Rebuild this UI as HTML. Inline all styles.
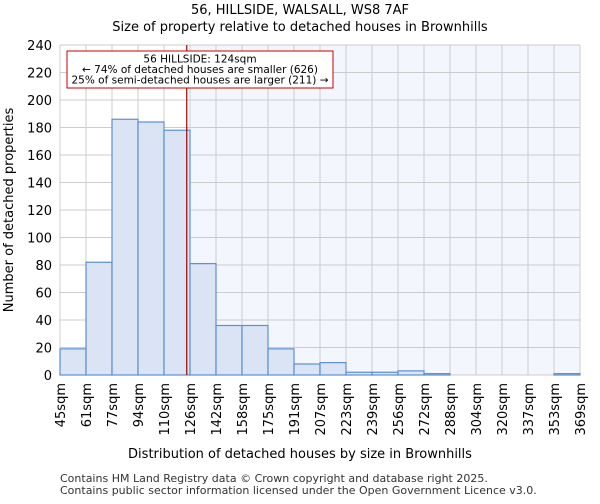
<!DOCTYPE html>
<html><head><meta charset="utf-8"><style>
body{margin:0;background:#fff;font-family:"DejaVu Sans","Liberation Sans",sans-serif;}
</style></head><body>
<svg id="c" width="600" height="500" xmlns="http://www.w3.org/2000/svg" font-family="DejaVu Sans, Liberation Sans, sans-serif">
<text x="300" y="14" text-anchor="middle" font-size="13">56, HILLSIDE, WALSALL, WS8 7AF</text>
<text x="300" y="31" text-anchor="middle" font-size="13">Size of property relative to detached houses in Brownhills</text>
<g id="plot"></g>
<text x="300" y="458" text-anchor="middle" font-size="13">Distribution of detached houses by size in Brownhills</text>
<text transform="translate(13,210) rotate(-90)" text-anchor="middle" font-size="13">Number of detached properties</text>
<text x="60" y="482" font-size="11" fill="#333">Contains HM Land Registry data © Crown copyright and database right 2025.</text>
<text x="60" y="494" font-size="11" fill="#333">Contains public sector information licensed under the Open Government Licence v3.0.</text>
</svg>
<script>
const binLabels=["45sqm","61sqm","77sqm","94sqm","110sqm","126sqm","142sqm","158sqm","175sqm","191sqm","207sqm","223sqm","239sqm","256sqm","272sqm","288sqm","304sqm","320sqm","337sqm","353sqm","369sqm"];
const counts=[19,82,186,184,178,81,36,36,19,8,9,2,2,3,1,0,0,0,0,1];
const yTicks=[0,20,40,60,80,100,120,140,160,180,200,220,240];
const markerBin=4.875;
const highlightFromBin=5;
const NS="http://www.w3.org/2000/svg";
const L=60,R=580,T=45,B=375,yMax=240;
const bw=(R-L)/counts.length;
const xs=i=>L+i*bw;
const ys=v=>B-(B-T)*v/yMax;
const g=document.getElementById('plot');
function mk(t,a){const e=document.createElementNS(NS,t);for(const k in a)e.setAttribute(k,a[k]);g.appendChild(e);return e;}
let e=mk('rect',{x:xs(highlightFromBin),y:T,width:R-xs(highlightFromBin),height:B-T,fill:'#f3f6fd'});


yTicks.forEach(v=>{
 let l=mk('line',{x1:L,x2:R,y1:ys(v),y2:ys(v),stroke:'#cccccc'});
 
 
 let t=mk('text',{x:L-8,y:ys(v)+5,'text-anchor':'end','font-size':13});t.textContent=v;
 
 
});
binLabels.forEach((s,i)=>{
 let l=mk('line',{x1:xs(i),x2:xs(i),y1:T,y2:B,stroke:'#cccccc'});
 
 
 let t=mk('text',{transform:`translate(${xs(i)+5},${B+8}) rotate(-90)`,'text-anchor':'end','font-size':13});t.textContent=s;
 
 
});
counts.forEach((v,i)=>{
 let r=mk('rect',{x:xs(i),y:ys(v),width:bw,height:B-ys(v),fill:'#dae4f4',stroke:'#5b8fd6','stroke-width':1.2});
 
 
});
e=mk('line',{x1:xs(markerBin),x2:xs(markerBin),y1:T,y2:B,stroke:'#a00000','stroke-width':1.2});


e=mk('rect',{x:67,y:51,width:266,height:37,fill:'#fff',stroke:'#cc0000'});


["56 HILLSIDE: 124sqm","← 74% of detached houses are smaller (626)","25% of semi-detached houses are larger (211) →"].forEach((s,i)=>{
 let t=mk('text',{x:200,y:62.5+i*10.5,'text-anchor':'middle','font-size':10.5});t.textContent=s;
 
 
});
</script>
</body></html>
